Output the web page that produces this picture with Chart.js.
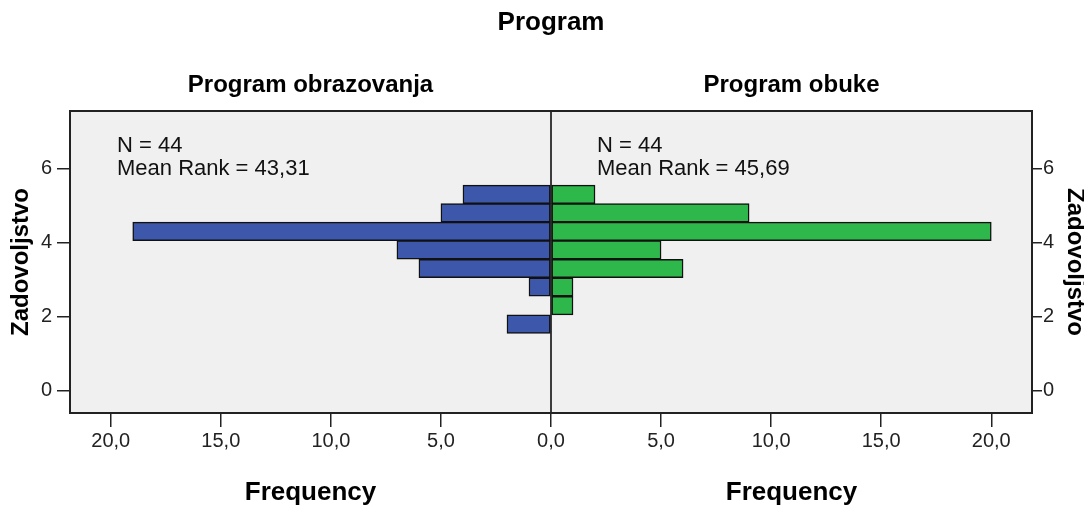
<!DOCTYPE html>
<html>
<head>
<meta charset="utf-8">
<title>Program</title>
<script src="https://cdn.jsdelivr.net/npm/chart.js@4.4.1/dist/chart.umd.min.js"></script>
<style>
  html, body { margin: 0; padding: 0; background: #fff; }
  #wrap { width: 1084px; height: 509px; position: relative; }
</style>
</head>
<body>
<div id="wrap"><canvas id="myChart"></canvas></div>
<script>
// Zadovoljstvo bins (bin centres) and frequencies per program
const bins = [5.3, 4.8, 4.3, 3.8, 3.3, 2.8, 2.3, 1.8];
const obrazovanja = [4, 5, 19, 7, 6, 1, 0, 2];
const obuke = [2, 9, 20, 5, 6, 1, 1, 0];
const freqTicks = [-20, -15, -10, -5, 0, 5, 10, 15, 20];
const rankTicks = [0, 2, 4, 6];
const panelTitles = ['Program obrazovanja', 'Program obuke'];
const panelNotes = [['N = 44', 'Mean Rank = 43,31'], ['N = 44', 'Mean Rank = 45,69']];

const FONT = "'Liberation Sans', Arial, sans-serif";

function points(values, sign) {
    const out = [];
    values.forEach(function(v, i) {
        if (v > 0) out.push({ x: sign * v, y: bins[i] });
    });
    return out;
}

function fmtFreq(v) {
    return Math.abs(v).toFixed(1).replace('.', ',');
}

const panelPlugin = {
    id: 'panelPlugin',
    beforeDatasetsDraw: (chart) => {
        const { ctx, chartArea } = chart;
        ctx.save();
        ctx.fillStyle = '#f0f0f0';
        ctx.fillRect(chartArea.left, chartArea.top, chartArea.right - chartArea.left, chartArea.bottom - chartArea.top);
        ctx.restore();
    },
    afterDatasetsDraw: (chart) => {
        const { ctx, chartArea, scales } = chart;
        const x0 = scales.x.getPixelForValue(0);
        ctx.save();
        ctx.strokeStyle = '#000';
        ctx.lineWidth = 1.5;
        ctx.beginPath();
        ctx.moveTo(x0, chartArea.top);
        ctx.lineTo(x0, chartArea.bottom);
        ctx.stroke();
        ctx.strokeStyle = '#222';
        ctx.lineWidth = 2;
        ctx.strokeRect(chartArea.left, chartArea.top, chartArea.right - chartArea.left, chartArea.bottom - chartArea.top);

        // texts
        const centres = [(chartArea.left + x0) / 2, (x0 + chartArea.right) / 2];
        ctx.fillStyle = '#000';
        ctx.textAlign = 'center';
        ctx.textBaseline = 'alphabetic';
        ctx.font = 'bold 26px ' + FONT;
        ctx.fillText('Program', x0, 30);
        ctx.font = 'bold 24px ' + FONT;
        ctx.fillText(panelTitles[0], centres[0], 92);
        ctx.fillText(panelTitles[1], centres[1], 92);
        ctx.font = 'bold 26px ' + FONT;
        ctx.fillText('Frequency', centres[0], 500);
        ctx.fillText('Frequency', centres[1], 500);

        ctx.textAlign = 'left';
        ctx.font = '22px ' + FONT;
        ctx.fillStyle = '#111';
        const lefts = [chartArea.left + 47, x0 + 46];
        panelNotes.forEach(function(lines, i) {
            ctx.fillText(lines[0], lefts[i], 152);
            ctx.fillText(lines[1], lefts[i], 175);
        });
        ctx.restore();
    }
};

const data = {
    datasets: [{
        label: panelTitles[0],
        data: points(obrazovanja, -1),
        backgroundColor: '#3d57ab',
        borderColor: '#111',
        borderWidth: 1.5,
        borderSkipped: false,
        grouped: false,
        categoryPercentage: 1,
        barPercentage: 1
    }, {
        label: panelTitles[1],
        data: points(obuke, 1),
        backgroundColor: '#2eb84b',
        borderColor: '#111',
        borderWidth: 1.5,
        borderSkipped: false,
        grouped: false,
        categoryPercentage: 1,
        barPercentage: 1
    }]
};

const yCommon = {
    type: 'linear',
    min: -0.6,
    max: 7.55,
    offset: false,
    afterBuildTicks: (scale) => { scale.ticks = rankTicks.map(v => ({ value: v })); },
    grid: { offset: false, drawOnChartArea: false, drawTicks: true, color: '#222', lineWidth: 1.5 },
    border: { display: false }
};

const config = {
    type: 'bar',
    data,
    options: {
        indexAxis: 'y',
        responsive: true,
        maintainAspectRatio: false,
        animation: false,
        layout: { padding: { top: 111, left: 0, right: 0, bottom: 0 } },
        plugins: {
            legend: { display: false },
            tooltip: { enabled: false }
        },
        scales: {
            x: {
                type: 'linear',
                min: -21.85,
                max: 21.85,
                afterBuildTicks: (scale) => { scale.ticks = freqTicks.map(v => ({ value: v })); },
                afterFit: (scale) => { scale.height = 96; },
                ticks: {
                    callback: (v) => fmtFreq(v),
                    color: '#222',
                    font: { family: FONT, size: 20 },
                    padding: 2,
                    maxRotation: 0
                },
                grid: { drawOnChartArea: false, drawTicks: true, tickLength: 14, color: '#222', lineWidth: 1.5 },
                border: { display: false }
            },
            y: Object.assign({}, yCommon, {
                position: 'left',
                afterFit: (scale) => { scale.width = 70; },
                ticks: { color: '#222', font: { family: FONT, size: 20 }, padding: 5 },
                grid: Object.assign({}, yCommon.grid, { tickLength: 13 }),
                title: {
                    display: true,
                    text: 'Zadovoljstvo',
                    color: '#000',
                    font: { family: FONT, size: 24, weight: 'bold', lineHeight: 1.2 },
                    padding: { top: 7, bottom: 0 }
                }
            }),
            y2: Object.assign({}, yCommon, {
                position: 'right',
                afterFit: (scale) => { scale.width = 52; },
                ticks: { color: '#222', font: { family: FONT, size: 20 }, padding: 1 },
                grid: Object.assign({}, yCommon.grid, { tickLength: 10 }),
                title: {
                    display: true,
                    text: 'Zadovoljstvo',
                    color: '#000',
                    font: { family: FONT, size: 24, weight: 'bold', lineHeight: 0.75 },
                    padding: { top: 0, bottom: 0 }
                }
            })
        }
    },
    plugins: [panelPlugin]
};

const myChart = new Chart(document.getElementById('myChart'), config);
</script>
</body>
</html>
